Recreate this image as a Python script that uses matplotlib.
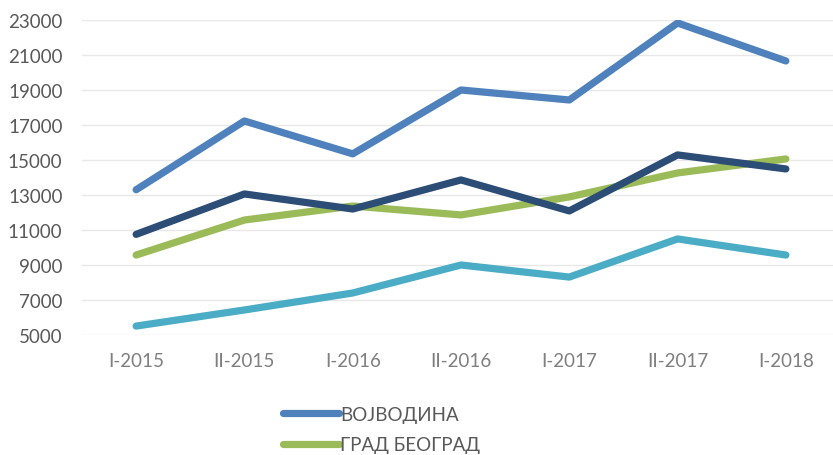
import matplotlib
matplotlib.use('Agg')
from matplotlib import pyplot as plt

plt.rcParams['font.family'] = ['Lato', 'DejaVu Sans']

periods = ['I-2015', 'II-2015', 'I-2016', 'II-2016', 'I-2017', 'II-2017', 'I-2018']
vojvodina = [13300, 17230, 15350, 19000, 18430, 22830, 20660]
beograd = [9570, 11570, 12370, 11860, 12890, 14260, 15060]
region3 = [10750, 13060, 12200, 13860, 12090, 15290, 14490]
region4 = [5510, 6430, 7400, 9000, 8310, 10490, 9570]
yticks = list(range(5000, 23001, 2000))

W, H = 833, 456
f = plt.figure(figsize=(W / 100, H / 100), dpi=100)
ax = f.add_axes([82 / W, 1 - 336 / H, (840 - 82) / W, (336 - 21) / H])

x = list(range(len(periods)))
lw = 5.2
ax.plot(x, vojvodina, color='#4F81BD', lw=lw, solid_capstyle='round', label='ВОЈВОДИНА')
ax.plot(x, beograd, color='#9BBB59', lw=lw, solid_capstyle='round', label='ГРАД БЕОГРАД')
ax.plot(x, region3, color='#2C4D75', lw=lw, solid_capstyle='round')
ax.plot(x, region4, color='#4BACC6', lw=lw, solid_capstyle='round')

ax.set_xlim(-0.5, len(periods) - 0.5)
ax.set_ylim(5000, 23000)
ax.set_yticks(yticks)
ax.set_xticks(x)
ax.set_xticklabels(periods)
ax.grid(axis='y', color='#E8E8E8', lw=1)
ax.set_axisbelow(True)
for s in ax.spines.values():
    s.set_visible(False)
ax.tick_params(length=0)
ax.tick_params(axis='y', labelsize=13.5, labelcolor='#595959', pad=14)
ax.tick_params(axis='x', labelsize=13.5, labelcolor='#7F7F7F', pad=12)

f.legend(loc='upper left', bbox_to_anchor=(266 / W, 1 - 390 / H), frameon=False,
         fontsize=13.5, handlelength=3.0, handletextpad=0.05, labelspacing=0.72,
         labelcolor='#595959')

plt.savefig('out.png', dpi=100)
